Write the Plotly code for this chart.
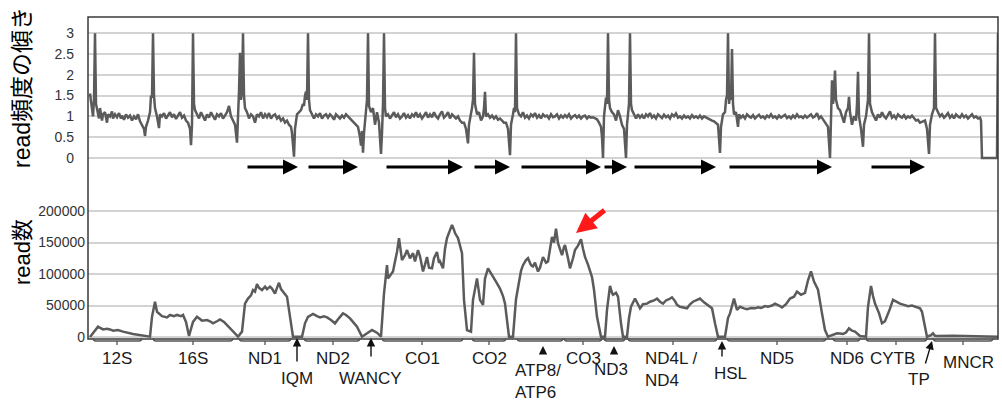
import plotly.graph_objects as go

# ---------------- data (genome position in bins of ~18 bp) ----------------
# top panel: slope of read frequency  (bin, ratio)
ratio_pts_a = [
    (2,1.55),(4,1.2),(5,1.0),(6,1.4),(7,3.0),(8,1.3),(9,1.15),(11,0.95),(12,1.2),(14,0.9),
    (15,1.05),(17,1.1),(19,0.85),(20,1.05),(22,1.0),(24,1.12),(25,0.95),(27,1.05),(29,0.98),(31,1.08),
    (33,0.95),(34,1.02),(36,0.92),(38,1.05),(40,0.97),(42,1.02),(44,0.9),(46,1.0),(48,0.93),(50,1.05),
    (52,0.88),(54,0.8),(56,0.7),(57,0.53),(58,0.75),(60,0.9),(62,1.1),(63,1.5),(64,1.45),(65,3.0),
    (66,1.5),(67,1.2),(69,1.0),(71,0.72),(72,1.05),(74,1.0),(76,1.08),(78,0.95),(80,1.02),(82,1.1),
    (84,0.98),(86,1.05),(88,0.94),(90,1.03),(92,1.1),(94,0.97),(96,1.02),(98,0.9),(100,0.85),(102,0.7),
    (103,0.31),(104,0.8),(105,3.0),(106,1.3),(107,1.15),(109,1.05),(111,0.95),(113,1.1),(115,1.0),(117,0.9),
    (119,1.05),(121,0.97),(123,1.1),(125,1.0),(127,0.92),(129,1.05),(131,1.0),(133,1.08),(135,0.95),(137,1.02),
    (139,1.1),(141,1.25),(143,1.0),(145,0.9),(147,0.8),(149,0.37),(150,0.9),(151,1.6),(152,2.53),(153,1.4),
    (154,1.6),(155,3.0),(156,1.5),(157,1.2),(159,1.1),(161,0.95),(163,1.05),(165,1.0),(167,0.85),(169,1.05),
    (171,1.0),(173,1.1),(175,0.95),(177,1.05),(179,0.98),(181,1.08),(183,0.95),(185,1.02),(187,1.05),(189,0.95),
    (191,1.0),(193,0.9),(195,0.95),(197,0.85),(199,0.9),(201,0.8),(203,0.75),(204,0.6),(206,0.03),(207,0.7),
    (209,1.05),(211,1.1),(213,1.15),(215,1.3),(216,1.25),(217,1.5),(218,1.6),(219,1.4),(220,3.0),(221,1.4),
    (222,1.15),(224,1.05),(226,0.95),(228,1.05),(230,1.0),(232,1.08),(234,0.95),(236,1.02),(238,1.05),(240,0.97),
    (242,1.05),(244,1.0),(246,0.92),(248,1.05),(250,1.0),(252,0.95),(254,1.02),(256,0.97),(258,1.05),(260,1.0),
    (262,0.95),(264,0.9),(266,0.85),(268,0.8),(270,0.75),(272,0.5),(273,0.3),(274,0.65),(275,0.13),(276,0.6),
    (278,1.2),(279,1.4),(280,3.0),(281,1.25),(283,1.1),(285,1.2),(287,0.8),(289,1.1),(291,0.85),(293,0.1),
    (294,0.6),(295,1.3),(296,3.0),(297,1.2),(298,1.0),(300,1.05),(302,0.95),(304,1.02),(306,1.1),(308,0.98),
    (310,1.05),(312,0.95),(314,1.0),(316,1.08),(318,0.97),(320,1.03),(322,0.95),(324,1.05),(326,1.0),(328,1.1),
    (330,0.98),(332,1.05),(334,0.95),(336,1.02),(338,1.1),(340,0.97),(342,1.05),(344,0.98),(346,1.1),(348,1.0),
    (350,0.95),(352,1.05),(354,1.12),(356,0.97),(358,1.02),(360,1.1),(362,0.95),(364,1.05),(366,1.0),(368,0.95),
    (370,1.0),(372,0.9),(374,0.85),(376,0.85),(378,0.7),(380,0.35),(381,0.8),(383,1.05),(384,1.2),(385,1.4),
    (386,2.53),(387,1.3),(389,1.05),(391,1.1),(393,0.9),(395,1.0),(396,1.2),(397,1.59),(398,1.0),(400,1.05),
    (402,0.97),(404,1.02),(406,0.95),(408,1.0),(410,0.92),(412,0.95),(414,0.9),(416,0.85),(418,0.85),(420,0.7),
    (422,0.07),(423,0.8),(425,1.05),(426,1.2),(427,1.1),(428,3.0),(429,1.2),(431,1.05),(433,1.0),(435,1.1),
]
ratio_pts_b = [
    (437,0.97),(439,1.02),(441,0.95),(443,1.05),(445,1.0),(447,1.08),(449,0.97),(451,1.03),(453,0.95),(455,1.05),
    (457,1.0),(459,1.02),(461,0.95),(463,1.05),(465,0.98),(467,1.0),(469,1.05),(471,0.95),(473,1.02),(475,0.97),
    (477,1.03),(479,0.98),(481,1.05),(483,0.95),(485,1.0),(487,1.03),(489,0.97),(491,1.02),(493,0.95),(495,1.0),
    (497,1.02),(499,0.95),(501,1.0),(503,0.97),(505,0.98),(507,0.95),(509,0.93),(511,0.85),(513,0.75),(514,0.5),
    (515,0.0),(516,1.0),(517,1.2),(518,1.45),(519,1.3),(520,3.0),(521,1.4),(522,1.2),(524,1.1),(526,1.05),
    (528,0.9),(530,1.15),(532,1.0),(534,0.8),(536,0.7),(538,0.0),(539,0.8),(540,1.1),(541,1.3),(542,3.0),
    (543,1.3),(544,1.15),(546,1.05),(548,0.95),(550,1.05),(552,0.97),(554,1.03),(556,0.95),(558,1.05),(560,1.0),
    (562,1.08),(564,0.97),(566,1.02),(568,0.95),(570,1.05),(572,1.0),(574,0.96),(576,1.04),(578,0.98),(580,1.02),
    (582,0.95),(584,1.05),(586,1.0),(588,1.07),(590,0.97),(592,1.0),(594,0.95),(596,1.02),(598,0.97),(600,1.0),
    (602,0.95),(604,1.03),(606,0.97),(608,1.0),(610,0.96),(612,1.02),(614,0.95),(616,1.0),(618,0.97),(620,0.95),
    (622,0.93),(624,0.9),(626,0.88),(628,0.85),(630,0.8),(632,0.12),(633,0.75),(635,1.05),(637,1.1),(638,1.4),
    (639,1.5),(640,3.0),(641,1.3),(642,1.5),(643,1.4),(644,2.62),(645,1.3),(646,1.05),(648,1.1),(650,0.75),
    (651,1.05),(653,0.97),(655,1.02),(657,0.95),(659,1.05),(661,1.0),(663,0.97),(665,1.03),(667,0.95),(669,1.0),
    (671,1.04),(673,0.97),(675,1.0),(677,0.95),(679,1.02),(681,0.98),(683,1.05),(685,0.97),(687,1.0),(689,0.95),
    (691,1.02),(693,0.97),(695,1.0),(697,1.04),(699,0.96),(701,1.0),(703,0.95),(705,1.02),(707,0.97),(709,1.05),
    (711,0.98),(713,1.0),(715,0.96),(717,1.02),(719,0.97),(721,1.0),(723,1.05),(725,0.97),(727,1.0),(729,1.08),
    (731,0.95),(733,1.0),(735,0.93),(736,0.92),(738,0.85),(740,0.75),(742,0.0),(743,1.2),(744,1.87),(745,1.3),
    (746,1.5),(747,2.1),(748,1.4),(750,1.2),(752,1.15),(754,1.0),(756,0.85),(758,1.1),(760,1.2),(761,1.47),
    (762,1.1),(764,0.8),(766,1.0),(768,0.9),(769,1.3),(770,2.07),(771,1.0),(773,0.7),(775,0.27),(776,0.8),
    (778,1.0),(779,1.2),(780,1.4),(781,3.0),(782,1.3),(784,1.1),(786,1.0),(788,0.9),(790,1.05),(792,0.97),
    (794,1.1),(796,1.0),(798,0.95),(800,1.05),(802,1.12),(804,0.97),(806,1.02),(808,0.95),(810,1.05),(812,1.0),
    (814,0.97),(816,1.03),(818,0.95),(820,1.0),(822,0.97),(824,1.02),(826,0.95),(828,0.9),(830,0.92),(832,0.85),
    (835,0.88),(837,0.9),(839,0.7),(841,0.1),(842,0.8),(844,1.05),(846,1.2),(847,3.0),(848,1.2),(850,1.1),
    (852,1.0),(854,1.05),(856,0.97),(858,1.02),(860,1.08),(862,0.97),(864,1.03),(866,0.95),(868,1.05),(870,1.0),
    (872,0.97),(874,1.05),(876,0.98),(878,1.02),(880,0.95),(882,1.0),(884,1.05),(886,0.97),(888,1.0),(890,0.95),
    (892,0.97),(893,0.9),(894,0.0),(909,0.0),(910,3.0),
]

# bottom panel: read counts  (bin, reads)
read_pts_a = [
    (2,0),(5,5800),(10,16400),(15,12000),(19,13000),(22,12000),(25,10000),(30,11000),(35,8500),(45,4800),
    (55,2100),(62,500),(64,32000),(67,56000),(69,40000),(74,33000),(79,31000),(82,35000),(86,33000),(89,35000),
    (93,33000),(95,35000),(98,24000),(101,1600),(105,24000),(109,32000),(114,26000),(119,27000),(122,25000),(125,21700),
    (129,25000),(132,28000),(136,24000),(139,19000),(145,8500),(150,500),(154,8500),(157,53000),(160,61000),(163,66000),
    (165,74600),(167,72000),(169,84000),(171,78000),(174,74600),(177,80000),(179,76000),(182,80000),(184,77000),(187,69000),
    (189,78000),(191,86000),(193,76000),(195,72000),(199,64000),(203,21700),(205,500),(214,500),(217,21700),(220,32000),
    (225,36500),(229,33000),(232,31000),(236,33000),(239,31000),(243,27000),(247,21700),(251,30000),(255,37500),(258,35000),
    (262,29600),(266,22000),(269,16400),(274,500),(279,5800),(284,11000),(289,6900),(293,500),(296,69000),(299,114000),
    (300,93000),(303,100000),(305,104000),(307,120000),(309,135000),(311,157000),(314,122000),(317,130000),(319,138000),(322,125000),
    (325,133000),(327,120000),(330,138000),(332,128000),(335,104000),(337,115000),(339,127000),(341,110000),(344,109000),(346,125000),
    (349,135000),(351,118000),(352,120000),(355,109000),(357,140000),(359,157000),(362,170000),(364,178000),(366,170000),(367,165000),
    (370,157000),(372,145000),(374,133000),(376,59000),(379,11000),(383,8500),(385,59000),(389,93000),(392,59000),(395,51000),
    (397,93000),(400,109000),(403,100000),(405,96000),(409,85000),(412,77000),(415,65000),(417,53000),(421,500),(425,500),
]
read_pts_b = [
    (428,60000),(431,88000),(433,105000),(435,114000),(438,122000),(440,125000),(443,114000),(445,112000),(447,118000),(450,104000),
    (452,110000),(455,127000),(458,118000),(460,120000),(462,140000),(464,159000),(466,150000),(468,172000),(470,149000),(472,140000),
    (474,130000),(476,143000),(477,146000),(480,125000),(482,109000),(485,125000),(487,138000),(490,145000),(493,155000),(495,140000),
    (497,127000),(500,115000),(502,106000),(504,95000),(506,75000),(509,32000),(513,500),(517,500),(519,43000),(522,81000),
    (524,70000),(525,67000),(528,70000),(530,64000),(533,21700),(535,500),(539,500),(541,30000),(543,48000),(547,61000),
    (549,55000),(552,45500),(555,52000),(559,53000),(562,56000),(566,58000),(569,61000),(572,56000),(575,53000),(578,58000),
    (581,60000),(584,63000),(587,57000),(589,51000),(592,48000),(595,47000),(599,45500),(602,52000),(605,56000),(608,58000),
    (612,61000),(616,55000),(619,51000),(622,48000),(624,45500),(627,21700),(630,500),(637,500),(640,30000),(642,37500),
    (646,61000),(649,43000),(652,48000),(656,45500),(659,44000),(663,46000),(667,45500),(670,47000),(673,46000),(677,49000),
    (680,48000),(684,50000),(687,53000),(691,50000),(694,47000),(698,52000),(702,61000),(706,64000),(709,72000),(713,67000),
    (717,70000),(720,90000),(723,104000),(726,88000),(730,75000),(734,37500),(737,11000),(740,500),(745,3000),(749,5800),
    (752,5500),(755,4800),(758,7000),(761,13800),(764,10000),(767,8500),(772,1600),(778,500),(780,48000),(783,81000),
    (785,65000),(787,53000),(791,38000),(794,21700),(797,25000),(799,32000),(802,45000),(805,59000),(808,56000),(812,53000),
    (816,51000),(820,49000),(824,50000),(827,48000),(830,47000),(832,45500),(834,40000),(836,21700),(839,500),(843,3000),
    (845,5800),(847,2000),(849,1600),(865,2100),(882,1600),(899,500),(910,500),
]

# gene annotation track (bins)
gene_names = ["12S", "16S", "ND1", "ND2", "CO1", "CO2", "ATP8/ATP6", "CO3", "ND3",
              "ND4L/ND4", "ND5", "ND6", "CYTB", "MNCR"]
gene_start = [5, 65, 151, 216, 294, 384, 429, 476, 516, 540, 639, 745, 778, 845]
gene_end   = [54, 145, 203, 272, 375, 418, 475, 514, 537, 629, 738, 772, 839, 905]
gene_mark  = [29, 105, 177, 245, 334, 401, None, 495, None, 585, 689, 759, 808, 875]

# transcription-direction arrows (bins)
dir_start = [158, 219, 297, 385, 432, 515, 545, 640, 782]
dir_end   = [210, 270, 375, 422, 513, 539, 628, 744, 837]

top_ticks = [0, 0.5, 1, 1.5, 2, 2.5, 3]
top_tick_text = ["0", "0.5", "1", "1.5", "2", "2.5", "3"]
read_ticks = [0, 50000, 100000, 150000, 200000]
read_tick_text = ["0", "50000", "100000", "150000", "200000"]

ratio_pts = ratio_pts_a + ratio_pts_b
read_pts = read_pts_a + read_pts_b
ratio_bin, ratio_val = zip(*ratio_pts)
read_bin, read_val = zip(*read_pts)

# ---------------- figure ----------------
LINE = "#5b5b5b"
TXT = "#1a1a1a"
FONT = "Liberation Sans, Arial, Noto Sans CJK JP, sans-serif"

fig = go.Figure()
fig.add_trace(go.Scatter(x=ratio_bin, y=ratio_val, mode="lines", yaxis="y",
                         line=dict(color=LINE, width=2.5), hoverinfo="skip"))
fig.add_trace(go.Scatter(x=read_bin, y=read_val, mode="lines", yaxis="y2",
                         line=dict(color=LINE, width=2.5), hoverinfo="skip"))

H_PLOT = 322.0


def py(p):
    """vertical layout position in page pixels -> paper fraction"""
    return (339.0 - p) / H_PLOT


fig.update_layout(
    width=1002, height=403,
    margin=dict(l=88, r=4, t=17, b=64),
    paper_bgcolor="white", plot_bgcolor="white",
    showlegend=False, hovermode=False,
    font=dict(family=FONT, color=TXT),
    xaxis=dict(domain=[0, 1], range=[0, 910], showgrid=False, showticklabels=False,
               zeroline=False, showline=False, ticks="", anchor="y2"),
    yaxis=dict(domain=[0.5404, 1], range=[-0.168, 3.389], tickvals=top_ticks,
               ticktext=top_tick_text, gridcolor="#d3d3d3", gridwidth=2, zeroline=False,
               showline=False, ticks="", ticklabelstandoff=13,
               tickfont=dict(size=14, color="#333333", family=FONT), anchor="x"),
    yaxis2=dict(domain=[0, 0.5], range=[-3175, 252381], tickvals=read_ticks,
                ticktext=read_tick_text, gridcolor="#d3d3d3", gridwidth=2, zeroline=False,
                showline=False, ticks="", ticklabelstandoff=2,
                tickfont=dict(size=14, color="#333333", family=FONT), anchor="x"),
)

# frame
fig.add_shape(type="rect", xref="paper", yref="paper", x0=0, x1=1, y0=0, y1=1,
              line=dict(color="#3a3a3a", width=1.5), layer="above")

# gene brackets
yb, yup, ytk = py(341), py(338), py(345)
for s, e, m in zip(gene_start, gene_end, gene_mark):
    path = f"M {s},{yup} Q {s},{yb} {s+3},{yb} L {e-3},{yb} Q {e},{yb} {e},{yup}"
    if m is not None:
        path += f" M {m},{yb} L {m},{ytk}"
    fig.add_shape(type="path", xref="x", yref="paper", path=path,
                  line=dict(color="#555555", width=1.3))

# gene labels
labels = [
    ("12S", 29, 358, "center"), ("16S", 105, 358, "center"), ("ND1", 177, 358, "center"),
    ("ND2", 245, 358, "center"), ("CO1", 334, 358, "center"), ("CO2", 401, 358, "center"),
    ("ATP8/<br>ATP6", 425, 381, "left"), ("CO3", 495, 358, "center"), ("ND3", 523, 369, "center"),
    ("ND4L /<br>ND4", 555, 369, "left"), ("ND5", 689, 358, "center"), ("ND6", 759, 358, "center"),
    ("CYTB", 804, 358, "center"), ("MNCR", 880, 362, "center"),
    ("IQM", 209, 378, "center"), ("WANCY", 282, 378, "center"), ("HSL", 642, 373, "center"),
    ("TP", 831, 379, "center"),
]
for txt, xb, yp, anc in labels:
    fig.add_annotation(text=txt, x=xb, y=py(yp), xref="x", yref="paper", showarrow=False,
                       xanchor=anc, yanchor="middle", align="left",
                       font=dict(size=17, color=TXT, family=FONT))

# small pointer arrows for tRNA / short features
pointers = [(209, 338, 0, 25), (283, 338, 0, 20), (634, 341, 0, 17),
            (455, 346, 0, 7), (526, 346, 0, 7), (844, 341, -7, 24)]
for xb, yp, axp, ayp in pointers:
    fig.add_annotation(text="", x=xb, y=py(yp), xref="x", yref="paper", showarrow=True,
                       ax=axp, ay=ayp, arrowhead=2, arrowsize=1.2, arrowwidth=1.4,
                       arrowcolor="#111111", standoff=0)

# direction arrows
for s, e in zip(dir_start, dir_end):
    fig.add_annotation(text="", x=e, y=py(167), xref="x", yref="paper", showarrow=True,
                       axref="x", ax=s, ayref="pixel", ay=0, arrowhead=2, arrowsize=1,
                       arrowwidth=3, arrowcolor="#000000", standoff=0)

# red highlight arrow
fig.add_annotation(text="", x=488, y=py(233), xref="x", yref="paper", showarrow=True,
                   ax=30, ay=-24, arrowhead=2, arrowsize=0.8, arrowwidth=5,
                   arrowcolor="#ff1a1a", standoff=0)

# axis titles
fig.add_annotation(text="read頻度の傾き", x=-0.0725, y=py(88), xref="paper", yref="paper",
                   showarrow=False, textangle=-90, xanchor="center", yanchor="middle",
                   font=dict(size=23, color="#000000", family=FONT))
fig.add_annotation(text="read数", x=-0.0725, y=py(252), xref="paper", yref="paper",
                   showarrow=False, textangle=-90, xanchor="center", yanchor="middle",
                   font=dict(size=22, color="#000000", family=FONT))

fig.write_html("out.html", config={"displayModeBar": False},
               post_script="document.body.style.margin='0';document.body.style.overflow='hidden';")
